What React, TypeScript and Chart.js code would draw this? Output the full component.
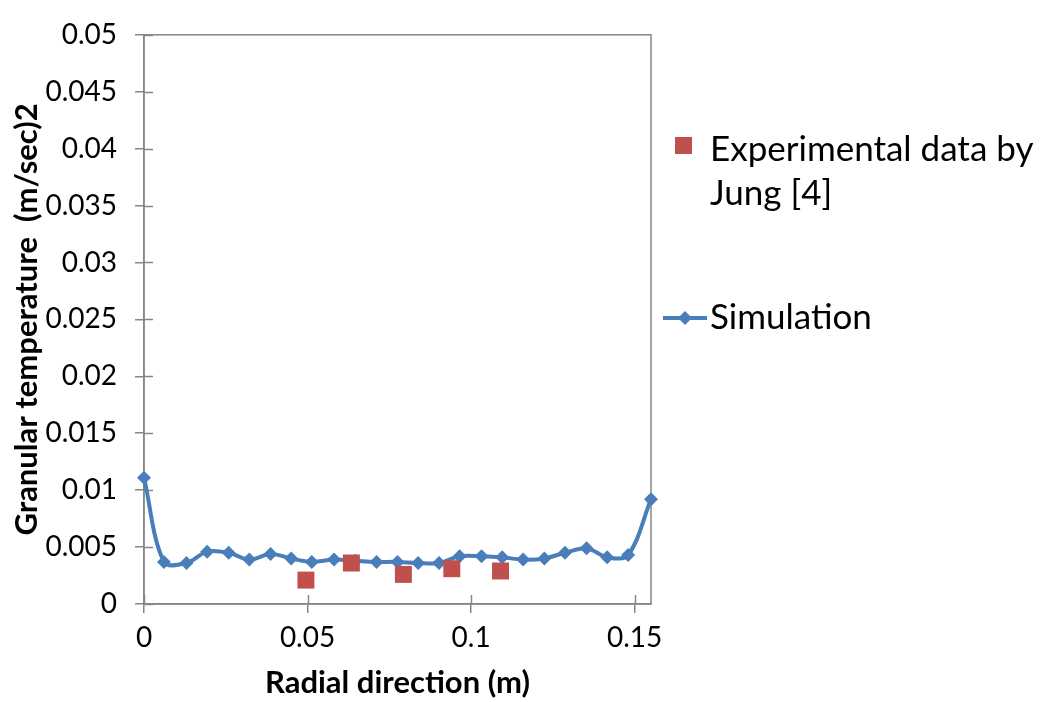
import { useEffect, useRef } from "react";
import { Chart, registerables } from "chart.js";

Chart.register(...registerables);

// Simulated granular temperature across the radius
const radialSim = [
  0, 0.0061, 0.013, 0.0193, 0.0259, 0.0322, 0.0387, 0.045, 0.0513, 0.0581, 0.0645, 0.0711, 0.0775,
  0.0838, 0.0902, 0.0965, 0.1032, 0.1095, 0.1159, 0.1224, 0.1287, 0.1353, 0.1416, 0.148, 0.155,
];
const tempSim = [
  0.0111, 0.0037, 0.0036, 0.0046, 0.0045, 0.0039, 0.0044, 0.004, 0.0037, 0.0039, 0.0038, 0.0037, 0.0037,
  0.0036, 0.0036, 0.0042, 0.0042, 0.0041, 0.0039, 0.004, 0.0045, 0.0049, 0.0041, 0.0043, 0.0092,
];

// Experimental measurements (Jung)
const radialExp = [0.0495, 0.0634, 0.0793, 0.0941, 0.109];
const tempExp = [0.0021, 0.0036, 0.0026, 0.0031, 0.0029];

// Axis ticks
const xTicks = [0, 0.05, 0.1, 0.15];
const xTickLabels = ["0", "0.05", "0.1", "0.15"];
const yTicks = [0, 0.005, 0.01, 0.015, 0.02, 0.025, 0.03, 0.035, 0.04, 0.045, 0.05];
const yTickLabels = ["0", "0.005", "0.01", "0.015", "0.02", "0.025", "0.03", "0.035", "0.04", "0.045", "0.05"];

const seriesNames = ["Experimental data by", "Jung [4]", "Simulation"];

const AXIS = "#868686";
const BLUE = "#4a7ebb";
const RED = "#c0504d";
const FONT = "Lato, 'Open Sans', sans-serif";
const TICK_LEN = 9;

// Box around the plot, inner halves of the tick marks and the legend on the right
const framePlugin = {
  id: "frameAndLegend",
  beforeDatasetsDraw(chart: any) {
    const { ctx, chartArea: a, scales } = chart;
    ctx.save();
    ctx.strokeStyle = AXIS;
    ctx.lineWidth = 1.5;
    ctx.strokeRect(a.left, a.top, a.right - a.left, a.bottom - a.top);
    ctx.beginPath();
    for (const v of yTicks) {
      const y = Math.round(scales.y.getPixelForValue(v)) + 0.5;
      ctx.moveTo(a.left, y);
      ctx.lineTo(a.left + TICK_LEN, y);
    }
    for (const v of xTicks) {
      const x = Math.round(scales.x.getPixelForValue(v)) + 0.5;
      ctx.moveTo(x, a.bottom);
      ctx.lineTo(x, a.bottom - TICK_LEN);
    }
    ctx.stroke();
    ctx.restore();
  },
  afterDraw(chart: any) {
    const { ctx, chartArea: a } = chart;
    const x0 = a.right;
    ctx.save();
    // experimental entry
    ctx.fillStyle = RED;
    ctx.fillRect(x0 + 24, 137, 17, 17);
    ctx.fillStyle = "#000";
    ctx.font = `35px ${FONT}`;
    ctx.textBaseline = "middle";
    ctx.textAlign = "left";
    ctx.fillText(seriesNames[0], x0 + 59, 150);
    ctx.fillText(seriesNames[1], x0 + 59, 194);
    // simulation entry
    ctx.strokeStyle = BLUE;
    ctx.lineWidth = 4;
    ctx.beginPath();
    ctx.moveTo(x0 + 12, 318);
    ctx.lineTo(x0 + 56, 318);
    ctx.stroke();
    ctx.fillStyle = BLUE;
    ctx.beginPath();
    const cx = x0 + 34;
    ctx.moveTo(cx, 311);
    ctx.lineTo(cx + 7, 318);
    ctx.lineTo(cx, 325);
    ctx.lineTo(cx - 7, 318);
    ctx.closePath();
    ctx.fill();
    ctx.fillStyle = "#000";
    ctx.fillText(seriesNames[2], x0 + 59, 318);
    ctx.restore();
  },
};

export default function App() {
  const canvasRef = useRef<HTMLCanvasElement | null>(null);

  useEffect(() => {
    const canvas = canvasRef.current;
    if (!canvas) return;
    const chart = new Chart(canvas, {
      type: "scatter",
      data: {
        datasets: [
          {
            label: "Simulation",
            data: radialSim.map((x, i) => ({ x, y: tempSim[i] })),
            showLine: true,
            borderColor: BLUE,
            backgroundColor: BLUE,
            borderWidth: 4,
            tension: 0.35,
            pointStyle: "rectRot",
            pointRadius: 7,
            pointBorderWidth: 0,
            pointBackgroundColor: BLUE,
            clip: false,
            order: 2,
          },
          {
            label: "Experimental data by Jung [4]",
            data: radialExp.map((x, i) => ({ x, y: tempExp[i] })),
            showLine: false,
            backgroundColor: RED,
            borderColor: RED,
            pointStyle: "rect",
            pointRadius: 12,
            pointBorderWidth: 0,
            clip: false,
            order: 1,
          },
        ],
      },
      options: {
        responsive: false,
        animation: false,
        devicePixelRatio: 1,
        layout: { padding: { top: 24, right: 390, left: 0, bottom: 0 } },
        plugins: { legend: { display: false }, tooltip: { enabled: false } },
        scales: {
          x: {
            type: "linear",
            min: 0,
            max: 0.155,
            afterFit: (s: any) => {
              s.height = 98;
            },
            afterBuildTicks: (s: any) => {
              s.ticks = xTicks.map((value) => ({ value }));
            },
            ticks: {
              callback: (_v: any, i: number) => xTickLabels[i],
              color: "#000",
              font: { family: FONT, size: 28 },
              padding: 8,
              maxRotation: 0,
            },
            grid: { drawOnChartArea: false, drawTicks: true, tickLength: TICK_LEN, color: AXIS, lineWidth: 1.5 },
            border: { color: AXIS, width: 1.5 },
            title: {
              display: true,
              text: "Radial direction (m)",
              color: "#000",
              font: { family: FONT, size: 31, weight: "bold" },
              padding: { top: 0, bottom: 0 },
            },
          },
          y: {
            type: "linear",
            min: 0,
            max: 0.05,
            afterFit: (s: any) => {
              s.width = 144;
            },
            afterBuildTicks: (s: any) => {
              s.ticks = yTicks.map((value) => ({ value }));
            },
            ticks: {
              callback: (_v: any, i: number) => yTickLabels[i],
              color: "#000",
              font: { family: FONT, size: 28 },
              padding: 18,
            },
            grid: { drawOnChartArea: false, drawTicks: true, tickLength: TICK_LEN, color: AXIS, lineWidth: 1.5 },
            border: { color: AXIS, width: 1.5 },
            title: {
              display: true,
              text: "Granular temperature  (m/sec)2",
              color: "#000",
              font: { family: FONT, size: 31, weight: "bold" },
              padding: { top: 8, bottom: 0 },
            },
          },
        },
      },
      plugins: [framePlugin],
    });
    return () => chart.destroy();
  }, []);

  return (
    <div style={{ position: "fixed", left: 0, top: 0, width: 1041, height: 702, background: "#fff" }}>
      <canvas ref={canvasRef} width={1041} height={702} />
    </div>
  );
}
